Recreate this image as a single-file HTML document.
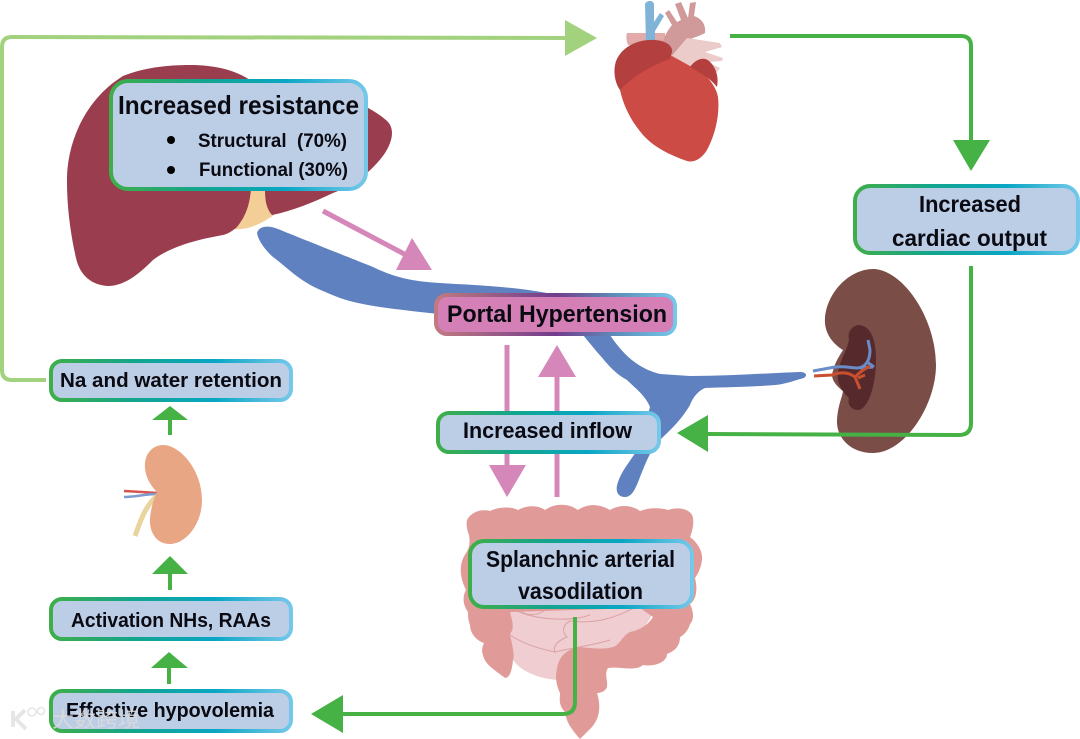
<!DOCTYPE html>
<html><head><meta charset="utf-8"><style>html,body{margin:0;padding:0;background:#fff}svg{display:block}text{font-family:"Liberation Sans","Noto Sans CJK SC",sans-serif;font-weight:bold;fill:#0a0a12}</style></head>
<body>
<svg width="1080" height="739" viewBox="0 0 1080 739" xmlns="http://www.w3.org/2000/svg">
<defs>
<linearGradient id="g"><stop offset="0" stop-color="#3fae49"/><stop offset=".35" stop-color="#12a58e"/><stop offset=".68" stop-color="#08a6c4"/><stop offset="1" stop-color="#74c8ea"/></linearGradient>
<linearGradient id="p"><stop offset="0" stop-color="#c07a80"/><stop offset=".5" stop-color="#713c8c"/><stop offset=".75" stop-color="#5e8cb8"/><stop offset="1" stop-color="#74c8ea"/></linearGradient>
</defs>

<!-- liver -->
<path d="M249 185 L267 185 C265 200 267 208 274 215 C262 223 250 230 234 229 Z" fill="#f3cf97"/>
<path d="M67 183 C66 145 84 100 123 76 C145 67 170 65 190 65 C215 65 235 70 250 80 L340 95 C360 103 378 112 388 122 C395 130 392 142 385 153 C372 172 352 186 333 193 C312 203 292 211 272 215 C266 208 265 200 265 188 L251 188 C250 205 245 218 236 228 C232 231 228 234 223 235 C195 240 170 247 153 260 C140 273 125 286 108 286 C92 285 80 276 76 258 C70 232 67 205 67 183Z" fill="#9a3d4e"/>

<!-- portal vein -->
<path d="M257 233 C259 226 268 225 278 229 C300 238 323 247 373 267 C390 275 405 281 440 283 C470 285 510 286 547 293 L585 300 L610 335 C620 350 635 368 660 374 L690 376 C730 376 770 373 800 372 C808 372 808 378 800 379 C790 382 785 384 775 385 C750 387 725 387 705 388 C696 392 692 400 690 405 C680 422 668 432 660 440 C650 450 645 465 640 477 C636 488 632 497 625 497 C617 497 615 490 618 482 C622 470 630 462 637 450 C642 438 646 420 650 407 C645 395 635 388 627 380 C612 372 603 358 597 352 L583 335 L500 318 C470 316 445 315 420 312 C385 308 360 305 340 298 C325 292 315 288 307 283 C295 276 285 266 273 257 C265 250 258 240 257 233Z" fill="#5f81c0"/>

<!-- heart -->
<path d="M627 33 L665 33 L665 50 L628 45 C626 40 626 36 627 33Z" fill="#e2aaa8"/>
<path d="M645 4 C647 0 653 0 654 4 L654 22 L660 13 L664 16 L655 31 L655 42 L646 42Z" fill="#7fb3d8"/>
<path d="M662 45 C664 36 668 30 672 25 L665 13 L669 10 L677 22 L681 20 L675 4 L681 2 L688 18 L690 3 L696 2 L694 16 C703 19 706 26 705 33 C698 37 693 37 688 41 L676 58 L665 56Z" fill="#d09a9b"/>
<path d="M670 58 L687 38 L720 43 L722 47 L705 52 L723 58 L722 61 L707 62 L720 68 L717 72 L705 68 L690 68Z" fill="#ebcccb"/>
<path d="M618 80 C635 72 655 60 672 56 L690 66 C705 72 716 85 718 97 C720 115 715 135 707 150 C702 158 695 163 687 161 C670 155 655 148 643 135 C632 122 624 108 620 90Z" fill="#cc4b45"/>
<path d="M620 90 C613 80 613 65 618 57 C625 45 640 39 655 40 C668 41 673 47 672 52 L670 59 C650 66 632 77 620 90Z" fill="#b33f3e"/>
<path d="M690 67 C695 60 703 56 709 61 C716 67 719 77 717 87 C710 78 700 73 690 67Z" fill="#b33f3e"/>

<!-- intestine -->
<path d="M505 605 L655 605 C652 625 630 642 613 650 L580 680 L557 680 C535 678 520 670 513 660Z" fill="#f0cdd0"/>
<path d="M510 635 C525 645 545 650 555 652 C552 645 560 640 567 637 C562 632 562 625 570 621 C600 625 620 615 640 605 M515 610 C535 620 570 622 590 615 M522 612 C530 617 540 614 545 610 M555 652 C570 648 595 645 610 640 M557 672 C558 660 565 650 575 650" fill="none" stroke="#d9a3a6" stroke-width="1"/>
<path d="M467 520 C472 511 482 509 490 511 C498 507 510 506 518 510 C527 505 538 505 545 510 C555 503 568 503 578 510 C588 503 600 504 610 510 C620 504 632 505 640 511 C650 507 662 508 668 510 C680 506 692 510 693 518 C694 525 692 532 690 537 C698 543 703 552 702 560 C701 568 698 574 695 578 C698 590 696 600 690 604 C694 612 694 620 690 624 C688 632 682 636 680 637 C680 648 672 652 667 654 C667 662 655 667 643 665 C635 672 620 666 608 668 C604 674 608 680 607 687 C605 692 600 693 597 693 C601 705 600 718 592 727 L580 739 C572 730 566 722 565 712 C558 705 560 698 560 693 C556 685 555 675 557 670 C558 655 570 648 580 647 C590 648 602 650 613 647 C620 645 622 636 630 632 C640 630 648 625 653 617 L640 608 L510 612 C512 620 515 628 510 634 C512 645 515 655 513 660 C512 670 510 678 505 678 C495 670 485 665 483 655 C481 650 483 645 484 643 C475 640 470 632 470 625 C468 620 468 615 468 612 C463 605 462 597 466 590 C460 578 458 565 466 553 C470 548 470 540 469 535 C467 530 466 525 467 520Z" fill="#e09b99"/>

<!-- brown kidney -->
<path d="M875 269 C905 272 936 320 936 365 C936 405 905 453 873 453 C850 453 836 437 837 420 C838 405 842 398 843 391 C835 385 830 378 833 371 C835 362 840 355 843 350 C830 342 824 330 825 318 C827 292 850 268 875 269Z" fill="#7b4d47"/>
<path d="M858 325 C870 325 876 338 876 360 C876 385 868 410 858 410 C851 410 847 404 849 398 C842 392 836 382 838 372 C840 360 847 350 849 340 C847 332 852 326 858 325Z" fill="#562a2c"/>
<path d="M813 371 L835 367 C845 366 852 368 858 368 C866 367 870 360 870 350 L868 340 M867 362 L874 367 M860 368 L873 367" fill="none" stroke="#6a8cc8" stroke-width="3"/>
<path d="M814 376 L832 375 C842 371 850 373 855 377 C860 372 863 370 870 366 M855 377 L860 389 M858 378 L865 375" fill="none" stroke="#c9502f" stroke-width="3"/>

<!-- orange kidney -->
<path d="M124 491 L158 493" stroke="#d9534f" stroke-width="2.5"/>
<path d="M124 497 C135 497 145 494 158 494" fill="none" stroke="#7d9bd1" stroke-width="2.5"/>
<path d="M135 536 C140 522 145 506 157 496" fill="none" stroke="#e8d49c" stroke-width="5"/>
<path d="M163 445 C180 445 202 470 202 500 C202 525 185 544 170 544 C155 544 149 530 150 518 C151 508 154 498 157 492 C150 485 144 475 145 463 C146 452 154 445 163 445Z" fill="#e8a684"/>

<!-- light green loop -->
<path d="M46 380 L12 380 Q2 380 2 370 L2 47 Q2 37 12 37 L567 38" fill="none" stroke="#a3d27f" stroke-width="4"/>
<path d="M565 20 L597 38 L565 56Z" fill="#a3d27f"/>

<!-- green connectors -->
<g fill="none" stroke="#46b145" stroke-width="4">
<path d="M730 36 L961 36 Q971 36 971 46 L971 142"/>
<path d="M971 266 L971 423 Q971 435 959 435 L706 434"/>
<path d="M575 617 L575 702 Q575 714 563 714 L341 714"/>
<path d="M170 435 L170 418 M170 590 L170 572 M169 684 L169 666"/>
</g>
<g fill="#46b145">
<path d="M953 140 L990 140 L971 171Z"/>
<path d="M708 415 L708 452 L677 433Z"/>
<path d="M343 695 L343 733 L311 714Z"/>
<path d="M152 420 L188 420 L170 406Z"/>
<path d="M152 574 L188 574 L170 556Z"/>
<path d="M151 668 L188 668 L169 652Z"/>
</g>

<!-- pink arrows -->
<g fill="none" stroke="#d487b8" stroke-width="5">
<path d="M323 211 L408 256"/>
<path d="M507 345 L507 467"/>
<path d="M557 497 L557 375"/>
</g>
<g fill="#d487b8">
<path d="M412 238 L432 270 L396 270Z"/>
<path d="M489 465 L526 465 L507 497Z"/>
<path d="M538 377 L576 377 L557 345Z"/>
</g>

<!-- boxes -->
<g fill="#bccde6" stroke="url(#g)" stroke-width="4">
<rect x="111" y="81" width="255" height="108" rx="17"/>
<rect x="855" y="186" width="223" height="67" rx="15"/>
<rect x="438" y="413" width="221" height="39" rx="11"/>
<rect x="51" y="361" width="240" height="39" rx="11"/>
<rect x="51" y="599" width="240" height="40" rx="11"/>
<rect x="51" y="691" width="240" height="40" rx="11"/>
<rect x="470" y="541" width="222" height="66" rx="14"/>
</g>
<rect x="436" y="295" width="239" height="39" rx="11" fill="#d47fb5" stroke="url(#p)" stroke-width="4"/>

<!-- labels -->
<text x="118" y="114" font-size="26" textLength="241" lengthAdjust="spacingAndGlyphs">Increased resistance</text>
<circle cx="171" cy="140" r="4" fill="#000"/>
<circle cx="171" cy="170" r="4" fill="#000"/>
<text x="198" y="147" font-size="19" textLength="149" lengthAdjust="spacingAndGlyphs" xml:space="preserve">Structural  (70%)</text>
<text x="199" y="176" font-size="19" textLength="149" lengthAdjust="spacingAndGlyphs">Functional (30%)</text>
<text x="919" y="212" font-size="23" textLength="102" lengthAdjust="spacingAndGlyphs">Increased</text>
<text x="892" y="246" font-size="23" textLength="155" lengthAdjust="spacingAndGlyphs">cardiac output</text>
<text x="447" y="322" font-size="24" textLength="220" lengthAdjust="spacingAndGlyphs">Portal Hypertension</text>
<text x="463" y="438" font-size="22" textLength="169" lengthAdjust="spacingAndGlyphs">Increased inflow</text>
<text x="60" y="387" font-size="20" textLength="222" lengthAdjust="spacingAndGlyphs">Na and water retention</text>
<text x="71" y="627" font-size="20" textLength="200" lengthAdjust="spacingAndGlyphs">Activation NHs, RAAs</text>
<text x="66" y="717" font-size="20" textLength="208" lengthAdjust="spacingAndGlyphs">Effective hypovolemia</text>
<text x="486" y="567" font-size="23" textLength="189" lengthAdjust="spacingAndGlyphs">Splanchnic arterial</text>
<text x="518" y="599" font-size="23" textLength="125" lengthAdjust="spacingAndGlyphs">vasodilation</text>

<!-- watermark -->
<g opacity=".85">
<path d="M13 711 L13 727 M25 710 L16 719 L26 729" fill="none" stroke="#e2e2e2" stroke-width="4"/>
<circle cx="32" cy="712" r="4" fill="none" stroke="#e2e2e2" stroke-width="1.6"/>
<circle cx="41" cy="711" r="3.5" fill="none" stroke="#e2e2e2" stroke-width="1.6"/>
<text x="52" y="727" font-size="21" textLength="88" lengthAdjust="spacingAndGlyphs" style="fill:#dcdcdc;font-weight:normal">大数跨境</text>
</g>
</svg>
</body></html>
